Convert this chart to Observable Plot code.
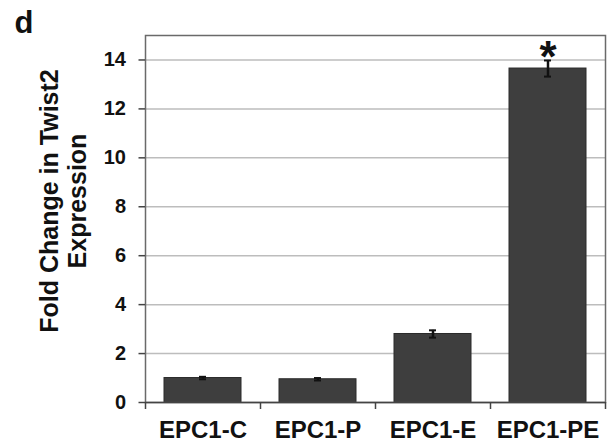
<!DOCTYPE html>
<html><head><meta charset="utf-8">
<script src="https://cdn.jsdelivr.net/npm/d3@7"></script>
<script src="https://cdn.jsdelivr.net/npm/@observablehq/plot@0.6"></script>
<style>body{margin:0;background:#fff} svg{display:block}</style>
</head><body><div id="chart"></div>
<script>
const categories = ["EPC1-C", "EPC1-P", "EPC1-E", "EPC1-PE"];
const values = [1.0, 0.95, 2.8, 13.65];
const errors = [0.05, 0.05, 0.15, 0.33];
const significant = [false, false, false, true];
const yTicks = [0, 2, 4, 6, 8, 10, 12, 14];
const gridTicks = [2, 4, 6, 8, 10, 12, 14];
const yLabel = "Fold Change in Twist2\nExpression";
const panelLetter = "d";

const data = categories.map((c, i) => ({cat: c, v: values[i], e: errors[i], sig: significant[i]}));
const W = 609, H = 446, mL = 145, mR = 4, mT = 35, mB = 44;
const step = (W - mL - mR) / categories.length;
const font = "'Liberation Sans', Arial, Helvetica, sans-serif";

const chart = Plot.plot({
  width: W, height: H,
  marginLeft: mL, marginRight: mR, marginTop: mT, marginBottom: mB,
  style: {fontFamily: font, background: "#fff", color: "#111"},
  x: {domain: categories, paddingInner: 0.33, paddingOuter: 0.165, label: null},
  y: {domain: [0, 15], label: null},
  marks: [
    Plot.ruleY(gridTicks, {stroke: "#bdbdbd", strokeWidth: 1.5}),
    Plot.barY(data, {x: "cat", y: "v", fill: "#3e3e3e", stroke: "#2a2a2a", strokeWidth: 1}),
    Plot.ruleX(data, {x: "cat", y1: d => d.v - d.e, y2: d => d.v + d.e, stroke: "#111", strokeWidth: 2.5}),
    Plot.tickY(data, {x: "cat", y: d => d.v + d.e, stroke: "#111", strokeWidth: 2, insetLeft: 35, insetRight: 35}),
    Plot.tickY(data, {x: "cat", y: d => d.v - d.e, stroke: "#111", strokeWidth: 2, insetLeft: 35, insetRight: 35}),
    Plot.frame({stroke: "#6a6a6a", strokeWidth: 1.5}),
    Plot.ruleY([0], {stroke: "#444", strokeWidth: 1.5}),
    Plot.ruleX(categories, {x: d => d, y1: 0, y2: 0, dx: -step / 2, insetBottom: -7, stroke: "#444", strokeWidth: 1.5}),
    Plot.ruleX(categories.slice(-1), {x: d => d, y1: 0, y2: 0, dx: step / 2, insetBottom: -7, stroke: "#444", strokeWidth: 1.5}),
    Plot.axisY({ticks: yTicks, tickSize: 6.5, tickPadding: 13, fontSize: 20, fontWeight: "bold", stroke: "#444", strokeWidth: 1.5, label: null, tickFormat: d => String(d)}),
    Plot.axisX({tickSize: 0, tickPadding: 18, fontSize: 24, fontWeight: "bold", label: null}),
    Plot.text(data.filter(d => d.sig), {x: "cat", y: d => d.v + d.e, text: () => "*", fontSize: 44, fontWeight: "bold", lineAnchor: "bottom", dy: 12, fill: "#111"}),
    Plot.text([yLabel], {frameAnchor: "left", text: d => d, rotate: -90, dx: -82.5, dy: -18, fontSize: 25, fontWeight: "bold", lineHeight: 1.1, lineAnchor: "middle", textAnchor: "middle", fill: "#111"}),
    Plot.text([panelLetter], {frameAnchor: "top-left", text: d => d, dx: -131, dy: -25, fontSize: 31, fontWeight: "bold", lineAnchor: "top", textAnchor: "start", fill: "#111"})
  ]
});
document.getElementById("chart").appendChild(chart);
</script>
</body></html>
